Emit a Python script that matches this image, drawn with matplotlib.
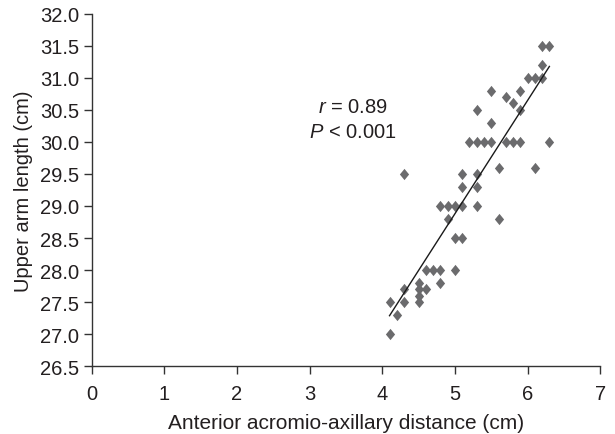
import numpy as np
import matplotlib
matplotlib.use("Agg")
import matplotlib.pyplot as plt

plt.rcParams['font.family'] = ['Liberation Sans', 'DejaVu Sans']
plt.rcParams['mathtext.fontset'] = 'custom'
plt.rcParams['mathtext.it'] = 'Liberation Sans:italic'
plt.rcParams['mathtext.rm'] = 'Liberation Sans'

distance_cm = [4.1, 4.1, 4.2, 4.3, 4.3, 4.3,
               4.5, 4.5, 4.5, 4.5, 4.6, 4.6, 4.7, 4.8, 4.8, 4.8,
               4.9, 4.9, 5.0, 5.0, 5.0, 5.1, 5.1, 5.1, 5.1,
               5.2, 5.3, 5.3, 5.3, 5.3, 5.3, 5.4, 5.5, 5.5, 5.5,
               5.6, 5.6, 5.7, 5.7, 5.8, 5.8, 5.9, 5.9, 5.9,
               6.0, 6.1, 6.1, 6.2, 6.2, 6.2, 6.3, 6.3]
arm_length_cm = [27.0, 27.5, 27.3, 27.7, 27.5, 29.5,
                 27.8, 27.7, 27.6, 27.5, 27.7, 28.0, 28.0, 28.0, 27.8, 29.0,
                 29.0, 28.8, 29.0, 28.5, 28.0, 28.5, 29.0, 29.3, 29.5,
                 30.0, 30.0, 30.5, 29.5, 29.3, 29.0, 30.0, 30.0, 30.3, 30.8,
                 29.6, 28.8, 30.0, 30.7, 30.0, 30.6, 30.0, 30.5, 30.8,
                 31.0, 31.0, 29.6, 31.0, 31.2, 31.5, 31.5, 30.0]

x_ticks = [0, 1, 2, 3, 4, 5, 6, 7]
y_ticks = [26.5, 27.0, 27.5, 28.0, 28.5, 29.0, 29.5, 30.0, 30.5, 31.0, 31.5, 32.0]
x_label = "Anterior acromio-axillary distance (cm)"
y_label = "Upper arm length (cm)"
stat_lines = [r"$r$ = 0.89", r"$P$ < 0.001"]

x = np.array(distance_cm)
y = np.array(arm_length_cm)

FS = 14.5
TXT = '#231f20'

fig = plt.figure(figsize=(6.15, 4.35), dpi=100)
ax = fig.add_axes([0.149, 0.156, 0.827, 0.810])

diamond = [(0, 1), (0.82, 0), (0, -1), (-0.82, 0), (0, 1)]
ax.scatter(x, y, marker=diamond, s=66, color='#6b6b6d', linewidths=0, zorder=3)

slope, intercept = np.polyfit(x, y, 1)
xs = np.array([x.min(), x.max()])
ax.plot(xs, slope * xs + intercept, color='#1a1a1a', lw=1.0, zorder=4)

ax.set_xlim(0, 7)
ax.set_ylim(26.5, 32.0)
ax.set_xticks(x_ticks)
ax.set_xticklabels([str(t) for t in x_ticks])
ax.set_yticks(y_ticks)
ax.set_yticklabels([f"{t:.1f}" for t in y_ticks])

for s in ['top', 'right']:
    ax.spines[s].set_visible(False)
for s in ['left', 'bottom']:
    ax.spines[s].set_color('#333333')
    ax.spines[s].set_linewidth(1.0)

ax.tick_params(axis='both', direction='out', length=6, width=1.0,
               color='#333333', labelsize=FS, labelcolor=TXT)
ax.tick_params(axis='x', pad=7)
ax.tick_params(axis='y', pad=3)

ax.set_xlabel(x_label, fontsize=15, color=TXT, labelpad=7)
ax.set_ylabel(y_label, fontsize=FS, color=TXT, labelpad=5)

ax.text(3.59, 30.55, stat_lines[0], ha='center', va='center', fontsize=FS, color=TXT)
ax.text(3.59, 30.16, stat_lines[1], ha='center', va='center', fontsize=FS, color=TXT)

fig.savefig("out.png", dpi=100)
